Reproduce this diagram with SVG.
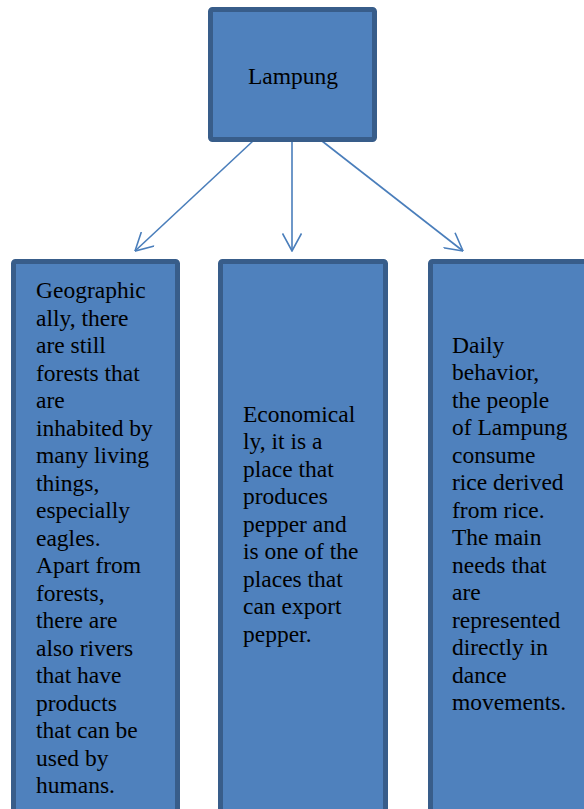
<svg xmlns="http://www.w3.org/2000/svg" width="584" height="809" viewBox="0 0 584 809">
<style>
.box{fill:#4F81BD;stroke:#385D8A;stroke-width:5}
.t{font-family:"Liberation Serif","Times New Roman",serif;font-size:23.5px;fill:#000}
.c{fill:none;stroke:#4A7EBB;stroke-width:1.6}
</style>
<defs>
<marker id="ah" viewBox="0 0 20 20" refX="19.5" refY="10" markerWidth="20" markerHeight="20" markerUnits="userSpaceOnUse" orient="auto">
<path d="M2,0.5 L19.5,10 L2,19.5" fill="none" stroke="#4A7EBB" stroke-width="1.6"/>
</marker>
</defs>
<rect width="584" height="809" fill="#fff"/>
<g id="connectors">
<line class="c" x1="253" y1="141" x2="135" y2="251" marker-end="url(#ah)"/>
<line class="c" x1="292" y1="141" x2="292" y2="251" marker-end="url(#ah)"/>
<line class="c" x1="322" y1="141" x2="463" y2="251" marker-end="url(#ah)"/>
</g>
<g id="lampung">
<rect class="box" x="210.5" y="9.5" width="164" height="130" rx="2"/>
<text class="t" x="293" y="83.5" text-anchor="middle">Lampung</text>
</g>
<g id="geographic">
<rect class="box" x="13.5" y="261.5" width="164" height="580" rx="2"/>
<text class="t">
<tspan x="36" y="298">Geographic</tspan>
<tspan x="36" y="325.5">ally, there</tspan>
<tspan x="36" y="353">are still</tspan>
<tspan x="36" y="380.5">forests that</tspan>
<tspan x="36" y="408">are</tspan>
<tspan x="36" y="435.5">inhabited by</tspan>
<tspan x="36" y="463">many living</tspan>
<tspan x="36" y="490.5">things,</tspan>
<tspan x="36" y="518">especially</tspan>
<tspan x="36" y="545.5">eagles.</tspan>
<tspan x="36" y="573">Apart from</tspan>
<tspan x="36" y="600.5">forests,</tspan>
<tspan x="36" y="628">there are</tspan>
<tspan x="36" y="655.5">also rivers</tspan>
<tspan x="36" y="683">that have</tspan>
<tspan x="36" y="710.5">products</tspan>
<tspan x="36" y="738">that can be</tspan>
<tspan x="36" y="765.5">used by</tspan>
<tspan x="36" y="793">humans.</tspan>
</text>
</g>
<g id="economical">
<rect class="box" x="220.5" y="261.5" width="165" height="580" rx="2"/>
<text class="t">
<tspan x="243" y="421.5">Economical</tspan>
<tspan x="243" y="449">ly, it is a</tspan>
<tspan x="243" y="476.5">place that</tspan>
<tspan x="243" y="504">produces</tspan>
<tspan x="243" y="531.5">pepper and</tspan>
<tspan x="243" y="559">is one of the</tspan>
<tspan x="243" y="586.5">places that</tspan>
<tspan x="243" y="614">can export</tspan>
<tspan x="243" y="641.5">pepper.</tspan>
</text>
</g>
<g id="daily">
<rect class="box" x="430.5" y="261.5" width="170" height="580" rx="2"/>
<text class="t">
<tspan x="452" y="352.5">Daily</tspan>
<tspan x="452" y="380">behavior,</tspan>
<tspan x="452" y="407.5">the people</tspan>
<tspan x="452" y="435">of Lampung</tspan>
<tspan x="452" y="462.5">consume</tspan>
<tspan x="452" y="490">rice derived</tspan>
<tspan x="452" y="517.5">from rice.</tspan>
<tspan x="452" y="545">The main</tspan>
<tspan x="452" y="572.5">needs that</tspan>
<tspan x="452" y="600">are</tspan>
<tspan x="452" y="627.5">represented</tspan>
<tspan x="452" y="655">directly in</tspan>
<tspan x="452" y="682.5">dance</tspan>
<tspan x="452" y="710">movements.</tspan>
</text>
</g>
</svg>
